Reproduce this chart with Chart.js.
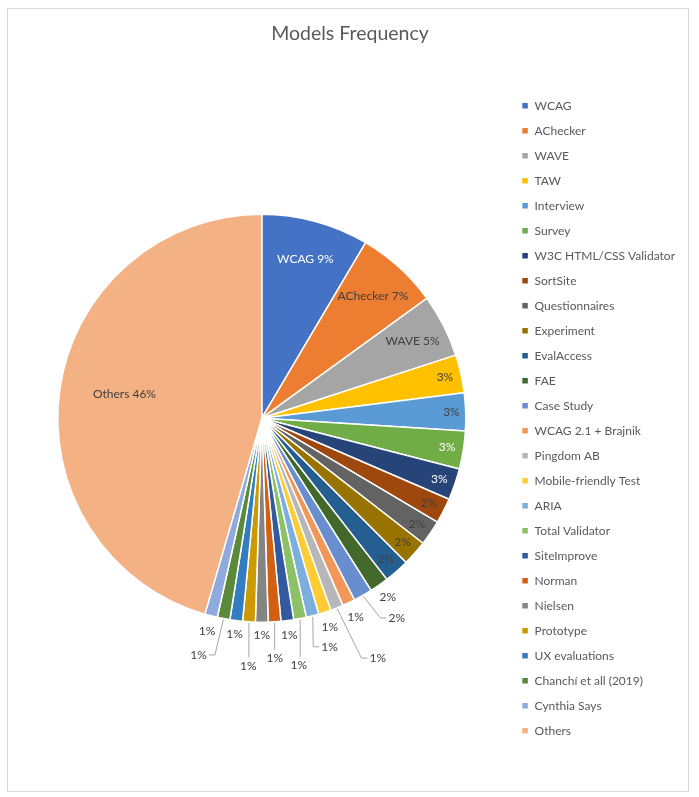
<!DOCTYPE html>
<html>
<head>
<meta charset="utf-8">
<title>Models Frequency</title>
<script src="https://cdn.jsdelivr.net/npm/chart.js@4.4.1/dist/chart.umd.min.js"></script>
<style>
html, body { margin: 0; padding: 0; background: #fff; }
#marco {
    position: absolute;
    left: 7px;
    top: 8px;
    width: 680px;
    height: 782px;
    border: 1px solid #d9d9d9;
}
canvas { display: block; }
</style>
</head>
<body>

<div id="marco">
    <canvas id="graficoModelos" width="680" height="782"></canvas>
</div>

<script>

// categorias del grafico (mismo orden que la leyenda)
const modelos = [
    "WCAG", "AChecker", "WAVE", "TAW", "Interview", "Survey",
    "W3C HTML/CSS Validator", "SortSite", "Questionnaires", "Experiment",
    "EvalAccess", "FAE", "Case Study", "WCAG 2.1 + Brajnik", "Pingdom AB",
    "Mobile-friendly Test", "ARIA", "Total Validator", "SiteImprove",
    "Norman", "Nielsen", "Prototype", "UX evaluations",
    "Chanchí et all (2019)", "Cynthia Says", "Others"
];

const frecuencias = [
    17, 13, 10, 6, 6, 6,
    5, 4, 4, 4,
    4, 3, 3, 2, 2,
    2, 2, 2, 2,
    2, 2, 2, 2,
    2, 2, 91
];

// paleta de Office
const colores = [
    "#4472C4", "#ED7D31", "#A5A5A5", "#FFC000", "#5B9BD5", "#70AD47",
    "#264478", "#9E480E", "#636363", "#997300", "#255E91", "#43682B",
    "#698ED0", "#F1975A", "#B7B7B7", "#FFCD33", "#7CAFDD", "#8CC168",
    "#335AA1", "#D26012", "#848484", "#CC9A00", "#327DC2", "#5A8A39",
    "#8FAADC", "#F4B183"
];

// donde va cada etiqueta: dentro (fraccion del radio) o fuera (px), con linea guia
const ubicaciones = [
    { dentro: 0.81, nombre: true, blanco: true },
    { dentro: 0.81, nombre: true },
    { dentro: 0.83, nombre: true },
    { dentro: 0.92 },
    { dentro: 0.93 },
    { dentro: 0.92, blanco: true },
    { dentro: 0.92, blanco: true },
    { dentro: 0.92 },
    { dentro: 0.92 },
    { dentro: 0.92 },
    { dentro: 0.92 },
    { fuera: 15 },
    { fuera: 26, dx: 21, guia: true },
    { fuera: 16 },
    { fuera: 54, dx: 21, guia: true },
    { fuera: 16 },
    { fuera: 32, dx: 9, guia: true },
    { fuera: 47, dx: -10, guia: true },
    { fuera: 15 },
    { fuera: 36, dx: -2, guia: true },
    { fuera: 13 },
    { fuera: 44, dx: 2, guia: true },
    { fuera: 14 },
    { fuera: 37, dx: -18, guia: true },
    { fuera: 16 },
    { dentro: 0.68, nombre: true, dy: -5 }
];

const etiquetasPorcentaje = {

    id: "etiquetasPorcentaje",

    afterDatasetsDraw(chart){

        const ctx = chart.ctx;

        const meta = chart.getDatasetMeta(0);

        const total =
        frecuencias.reduce(
            (a, b) => a + b, 0
        );

        ctx.save();
        ctx.font = "12px Lato";
        ctx.textAlign = "center";
        ctx.textBaseline = "middle";
        ctx.strokeStyle = "#A6A6A6";
        ctx.lineWidth = 1;

        meta.data.forEach((arco, i) => {

            const { x, y, startAngle, endAngle, outerRadius } =
            arco.getProps(
                ["x", "y", "startAngle", "endAngle", "outerRadius"],
                true
            );

            const medio = (startAngle + endAngle) / 2;

            const lugar = ubicaciones[i];

            const pct =
            Math.round(frecuencias[i] / total * 100) + "%";

            const texto =
            lugar.nombre
            ? `${modelos[i]} ${pct}`
            : pct;

            const dist =
            lugar.dentro !== undefined
            ? outerRadius * lugar.dentro
            : outerRadius + lugar.fuera;

            const tx = x + Math.cos(medio) * dist + (lugar.dx || 0);
            const ty = y + Math.sin(medio) * dist + (lugar.dy || 0);

            if(lugar.guia){

                const ax = x + Math.cos(medio) * (outerRadius + 1);
                const ay = y + Math.sin(medio) * (outerRadius + 1);

                const mitad = ctx.measureText(texto).width / 2 + 2;

                ctx.beginPath();
                ctx.moveTo(ax, ay);

                if(Math.abs(tx - ax) > mitad){
                    const lado = tx > ax ? -1 : 1;
                    const bx = tx + lado * mitad;
                    ctx.lineTo(bx + lado * 6, ty);
                    ctx.lineTo(bx, ty);
                } else {
                    ctx.lineTo(ax, ty - 8);
                }

                ctx.stroke();

            }

            ctx.fillStyle = lugar.blanco ? "#FFFFFF" : "#404040";
            ctx.fillText(texto, tx, ty);

        });

        ctx.restore();

    }

};

Chart.defaults.font.family = "Lato";

new Chart(

    document.getElementById(
        "graficoModelos"
    ),

    {

        type: "pie",

        data: {

            labels: modelos,

            datasets: [{

                data: frecuencias,

                backgroundColor: colores,

                borderColor: "#FFFFFF",

                borderWidth: 1.5,

                radius: 204

            }]

        },

        options: {

            responsive: false,

            animation: false,

            layout: {
                padding: { left: 7, right: 3, top: 0, bottom: 30 }
            },

            plugins: {

                title: {
                    display: true,
                    text: "Models Frequency",
                    color: "#595959",
                    font: { size: 19.5, weight: "normal" },
                    padding: { top: 13, bottom: 30 }
                },

                legend: {
                    position: "right",
                    align: "center",
                    fullSize: false,
                    labels: {
                        boxWidth: 7,
                        boxHeight: 7,
                        padding: 13,
                        color: "#595959",
                        font: { size: 12 }
                    }
                },

                tooltip: { enabled: false }

            }

        },

        plugins: [etiquetasPorcentaje]

    }

);

</script>
</body>
</html>
